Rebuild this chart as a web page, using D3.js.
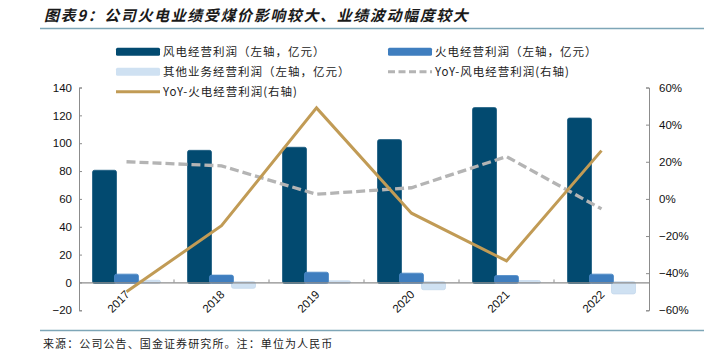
<!DOCTYPE html>
<html><head><meta charset="utf-8">
<script src="https://cdn.jsdelivr.net/npm/d3@7/dist/d3.min.js"></script>
<style>
html,body{margin:0;padding:0;background:#fff;}
svg{display:block;}
</style></head>
<body>
<script>
const categories = ["2017","2018","2019","2020","2021","2022"];
const windProfit = [80, 94.3, 96.5, 102, 125, 117.5];
const thermalProfit = [5.4, 4.7, 6.8, 6.1, 4.4, 5.4];
const otherProfit = [1.0, -3.5, 0.6, -4.5, 0.8, -7.5];
const yoyWind = [20, 17.8, 2.5, 6, 22.8, -5.4];
const yoyThermal = [-50, -14.4, 49, -7.7, -33.4, 26];
const leftTicks = [-20, 0, 20, 40, 60, 80, 100, 120, 140];
const rightTicks = [-60, -40, -20, 0, 20, 40, 60];
const seriesNames = ["风电经营利润（左轴，亿元）","火电经营利润（左轴，亿元）","其他业务经营利润（左轴，亿元）","YoY-风电经营利润(右轴)","YoY-火电经营利润(右轴)"];
const titleText = "图表9：公司火电业绩受煤价影响较大、业绩波动幅度较大";
const footText = "来源：公司公告、国金证券研究所。注：单位为人民币";

const W = 712, H = 356;
const C = {dark:"#024a70", blue:"#3f7ebf", light:"#cfe1f2", gold:"#c19b55", gray:"#b4b4b4", axis:"#8c8c8c"};
const cjk = "'Noto Sans CJK SC','Noto Sans',sans-serif";
const num = "'Liberation Sans',Arial,sans-serif";

const svg = d3.select("body").append("svg").attr("width", W).attr("height", H);

// title
svg.append("text").attr("x", 44).attr("y", 20.5).text(titleText)
  .attr("font-family", cjk).attr("font-size", 15).attr("font-weight", "bold")
  .attr("font-style", "italic").attr("letter-spacing", 1.6).attr("fill", "#1a1a1a");
svg.append("line").attr("x1", 40).attr("x2", 704).attr("y1", 28.5).attr("y2", 28.5)
  .attr("stroke", "#7ea6b7").attr("stroke-width", 1.3);

// footer
svg.append("line").attr("x1", 40).attr("x2", 704).attr("y1", 330.5).attr("y2", 330.5)
  .attr("stroke", "#7ea6b7").attr("stroke-width", 1.3);
svg.append("text").attr("x", 43).attr("y", 348).text(footText)
  .attr("font-family", cjk).attr("font-size", 11).attr("letter-spacing", 1.1).attr("fill", "#222");

// scales
const x = d3.scaleBand().domain(categories).range([79, 649]).paddingInner(0).paddingOuter(0);
const yL = d3.scaleLinear().domain([-20, 140]).range([310.3, 87.5]);
const yR = d3.scaleLinear().domain([-60, 60]).range([310.3, 87.5]);
const sub = d3.scaleBand().domain(["wind","thermal","other"]).range([-33, 33]);
const barW = 24;
const cx = c => x(c) + x.bandwidth() / 2;

// axes
const gL = svg.append("g").attr("transform", "translate(79,0)")
  .call(d3.axisLeft(yL).tickValues(leftTicks).tickSize(-3).tickPadding(7).tickFormat(d => d < 0 ? "\u2212" + Math.abs(d) : d));
const gR = svg.append("g").attr("transform", "translate(649,0)")
  .call(d3.axisRight(yR).tickValues(rightTicks).tickSize(-3).tickPadding(10).tickFormat(d => (d < 0 ? "\u2212" + Math.abs(d) : d) + "%"));
[gL, gR].forEach(g => {
  g.select(".domain").attr("stroke", C.axis).attr("stroke-width", 1);
  g.selectAll(".tick line").attr("stroke", C.axis);
  g.selectAll("text").attr("font-family", num).attr("font-size", 11.5).attr("fill", "#111");
});

// bars
const drawBars = (key, vals, color, stroke) => {
  svg.append("g").selectAll("rect").data(categories).join("rect")
    .attr("x", (c) => cx(c) + sub(key) + sub.bandwidth() / 2 - barW / 2)
    .attr("width", barW)
    .attr("y", (c, i) => Math.min(yL(vals[i]), yL(0)) - 0.8)
    .attr("height", (c, i) => Math.abs(yL(vals[i]) - yL(0)) + 1.8)
    .attr("rx", 2).attr("fill", color).attr("stroke", stroke).attr("stroke-width", 0.8);
};
drawBars("wind", windProfit, C.dark, "#1c5d82");
drawBars("other", otherProfit, C.light, "#c4d8ec");
drawBars("thermal", thermalProfit, C.blue, "#4b89c6");

// x axis
const gX = svg.append("g").attr("transform", `translate(0,${yL(0)})`)
  .call(d3.axisBottom(x).tickSize(0).tickFormat(""));
gX.select(".domain").attr("stroke", C.axis).attr("stroke-width", 1.2);
gX.selectAll(".tk").data(d3.range(1, categories.length)).join("line")
  .attr("x1", i => x(categories[i])).attr("x2", i => x(categories[i]))
  .attr("y1", -3).attr("y2", 0).attr("stroke", C.axis);
svg.append("g").selectAll("text").data(categories).join("text")
  .attr("transform", c => `translate(${cx(c) + 1},${yL(0) + 10}) rotate(-45)`)
  .attr("text-anchor", "end").attr("dy", "0.35em")
  .attr("font-family", num).attr("font-size", 11.5).attr("fill", "#111").text(c => c);

// lines
const line = d3.line().x((d, i) => cx(categories[i])).y(d => yR(d));
svg.append("path").datum(yoyWind).attr("d", line).attr("fill", "none")
  .attr("stroke", C.gray).attr("stroke-width", 3.3).attr("stroke-dasharray", "9,4");
svg.append("path").datum(yoyThermal).attr("d", line).attr("fill", "none")
  .attr("stroke", C.gold).attr("stroke-width", 3);

// legend
const lg = svg.append("g");
const legendItems = [
  {name: seriesNames[0], type: "rect", color: C.dark, x: 116, y: 51.7},
  {name: seriesNames[1], type: "rect", color: C.blue, x: 388, y: 51.7},
  {name: seriesNames[2], type: "rect", color: C.light, x: 116, y: 71.7},
  {name: seriesNames[3], type: "dash", color: C.gray, x: 388, y: 71.7},
  {name: seriesNames[4], type: "line", color: C.gold, x: 116, y: 91.7}
];
legendItems.forEach(d => {
  if (d.type === "rect") {
    lg.append("rect").attr("x", d.x).attr("y", d.y - 4).attr("width", 44).attr("height", 8)
      .attr("rx", 1.5).attr("fill", d.color);
  } else {
    lg.append("line").attr("x1", d.x).attr("x2", d.x + 44).attr("y1", d.y).attr("y2", d.y)
      .attr("stroke", d.color).attr("stroke-width", 3)
      .attr("stroke-dasharray", d.type === "dash" ? "7,3.5" : null);
  }
  lg.append("text").attr("x", d.x + 47).attr("y", d.y).attr("dy", "0.36em").text(d.name)
    .attr("font-family", cjk).attr("font-size", 11.5).attr("letter-spacing", 1).attr("fill", "#222");
});
</script>
</body></html>
